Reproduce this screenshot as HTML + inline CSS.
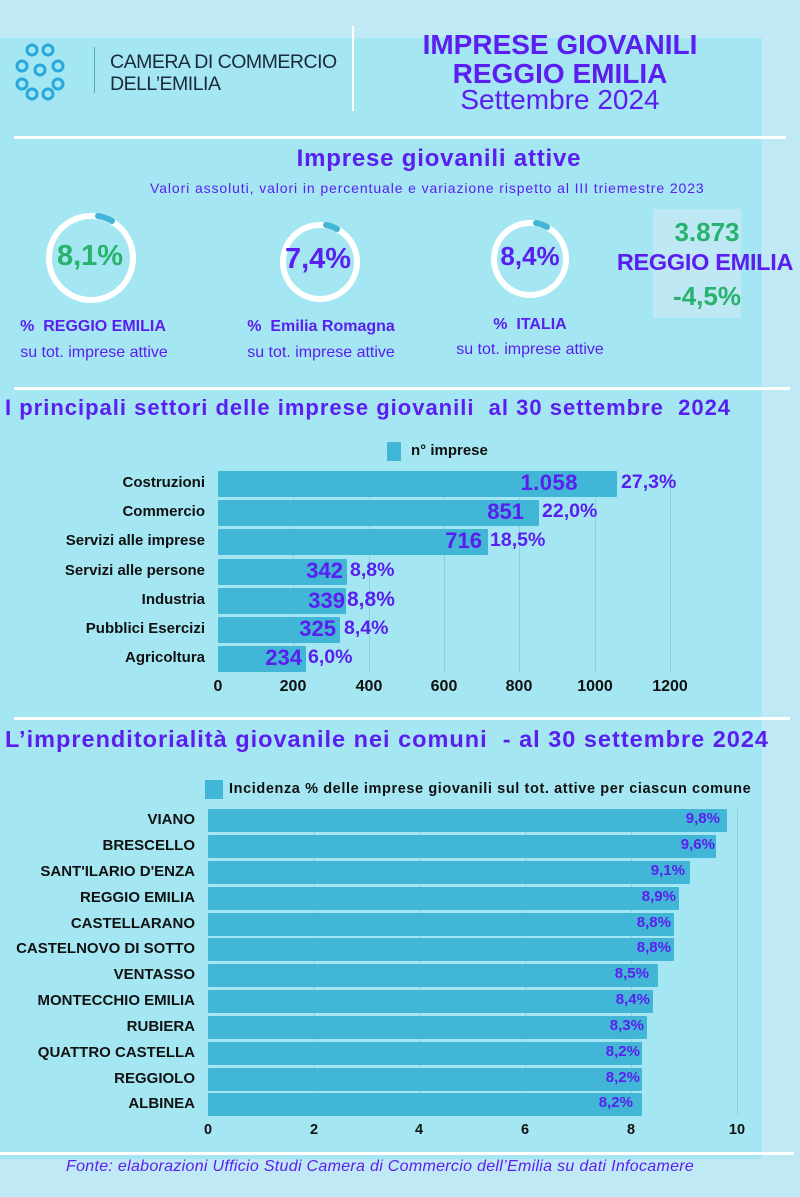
<!DOCTYPE html>
<html><head><meta charset="utf-8">
<style>
*{margin:0;padding:0;box-sizing:border-box}
body{width:800px;height:1197px;background:#c0e9f6;position:relative;overflow:hidden;font-family:"Liberation Sans",sans-serif}
.a{position:absolute;white-space:nowrap}
.p{color:#5a1ff0}
.g{color:#27b36e}
.k{color:#111}
.bar{position:absolute;background:#41b6d6;border-radius:1px}
.grid{position:absolute;width:1px;background:#8ccfdf}
.lbl{position:absolute;text-align:right;font-weight:bold;font-size:15px;color:#111;white-space:nowrap}
.wl{position:absolute;height:3px;background:#fff}
.v1{position:absolute;text-align:right;width:100px;font-weight:bold;font-size:22px;color:#5a1ff0}
.q1{position:absolute;font-weight:bold;font-size:19.5px;color:#5a1ff0}
.v2{position:absolute;text-align:right;width:60px;font-weight:bold;font-size:15px;color:#5a1ff0}
.t1{position:absolute;width:60px;text-align:center;font-weight:bold;font-size:16px;color:#111}
.t2{position:absolute;width:30px;text-align:center;font-weight:bold;font-size:14.5px;color:#111}
</style></head><body>
<div class="a" style="left:0;top:38px;width:762px;height:1121px;background:#a4e7f2"></div>

<!-- logo -->
<svg class="a" style="left:12px;top:40px" width="66" height="62" viewBox="0 0 66 62">
<g fill="none" stroke="#2aa9dc" stroke-width="3">
<circle cx="20" cy="10" r="5"/><circle cx="36" cy="10" r="5"/>
<circle cx="10" cy="26" r="5"/><circle cx="28" cy="30" r="5"/><circle cx="46" cy="26" r="5"/>
<circle cx="10" cy="44" r="5"/><circle cx="46" cy="44" r="5"/>
<circle cx="20" cy="54" r="5"/><circle cx="36" cy="54" r="5"/>
</g></svg>
<div class="a" style="left:94px;top:47px;width:1px;height:46px;background:#5aa"></div>
<div class="a k" style="left:110px;top:51px;font-size:19.5px;line-height:22px;color:#1a2a3a;letter-spacing:-0.5px">CAMERA DI COMMERCIO<br>DELL’EMILIA</div>
<div class="a" style="left:352px;top:26px;width:2px;height:85px;background:#fff"></div>
<div class="a p" style="left:360px;top:30px;width:400px;text-align:center;font-weight:bold;font-size:28px;line-height:29px;letter-spacing:0px">IMPRESE GIOVANILI<br>REGGIO EMILIA</div>
<div class="a p" style="left:360px;top:85px;width:400px;text-align:center;font-size:28px;line-height:30px">Settembre 2024</div>
<div class="wl" style="left:14px;top:136px;width:772px"></div>

<div class="a p" style="left:0;top:145px;width:878px;text-align:center;font-weight:bold;font-size:24px;letter-spacing:0.8px">Imprese giovanili attive</div>
<div class="a p" style="left:150px;top:180px;font-size:14px;letter-spacing:0.9px">Valori assoluti, valori in percentuale e variazione rispetto al III triemestre 2023</div>

<!-- donuts -->
<svg class="a" style="left:0;top:200px" width="640" height="110">
<circle cx="91" cy="58" r="42" fill="none" stroke="#fff" stroke-width="6"/>
<path d="M98 16 A42 42 0 0 1 112 21" stroke="#41b6d6" stroke-width="6" fill="none" stroke-linecap="round"/>
<circle cx="320" cy="62" r="37" fill="none" stroke="#fff" stroke-width="6"/>
<path d="M326 25 A37 37 0 0 1 337 29" stroke="#41b6d6" stroke-width="6" fill="none" stroke-linecap="round"/>
<circle cx="530" cy="59" r="36" fill="none" stroke="#fff" stroke-width="6"/>
<path d="M536 23 A36 36 0 0 1 547 27" stroke="#41b6d6" stroke-width="6" fill="none" stroke-linecap="round"/>
</svg>
<div class="a g" style="left:45px;top:240px;width:90px;text-align:center;font-weight:bold;font-size:29px">8,1%</div>
<div class="a p" style="left:273px;top:243px;width:90px;text-align:center;font-weight:bold;font-size:29px">7,4%</div>
<div class="a p" style="left:485px;top:241px;width:90px;text-align:center;font-weight:bold;font-size:26px">8,4%</div>
<div class="a p" style="left:0;top:318px;width:186px;text-align:center;font-weight:bold;font-size:16px">%&nbsp; REGGIO EMILIA</div>
<div class="a p" style="left:0;top:344px;width:188px;text-align:center;font-size:16px">su tot. imprese attive</div>
<div class="a p" style="left:226px;top:318px;width:190px;text-align:center;font-weight:bold;font-size:16px">%&nbsp; Emilia Romagna</div>
<div class="a p" style="left:226px;top:344px;width:190px;text-align:center;font-size:16px">su tot. imprese attive</div>
<div class="a p" style="left:440px;top:316px;width:180px;text-align:center;font-weight:bold;font-size:16px">%&nbsp; ITALIA</div>
<div class="a p" style="left:440px;top:341px;width:180px;text-align:center;font-size:16px">su tot. imprese attive</div>
<div class="a" style="left:653px;top:209px;width:88px;height:109px;background:#bfe8f5"></div>
<div class="a g" style="left:612px;top:217px;width:190px;text-align:center;font-weight:bold;font-size:26px">3.873</div>
<div class="a p" style="left:605px;top:249px;width:200px;text-align:center;font-weight:bold;font-size:23.5px;letter-spacing:-0.3px">REGGIO EMILIA</div>
<div class="a g" style="left:612px;top:281px;width:190px;text-align:center;font-weight:bold;font-size:26px">-4,5%</div>

<div class="wl" style="left:14px;top:387px;width:776px"></div>

<!-- chart 1 -->
<div class="a p" style="left:5px;top:395px;font-weight:bold;font-size:22px;letter-spacing:1px">I principali settori delle imprese giovanili&nbsp; al 30 settembre&nbsp; 2024</div>
<div class="a" style="left:387px;top:442px;width:14px;height:19px;background:#41b6d6"></div>
<div class="a k" style="left:411px;top:442px;font-weight:bold;font-size:15px">n° imprese</div>
<div class="grid" style="left:293px;top:471px;height:201px"></div>
<div class="grid" style="left:369px;top:471px;height:201px"></div>
<div class="grid" style="left:444px;top:471px;height:201px"></div>
<div class="grid" style="left:519px;top:471px;height:201px"></div>
<div class="grid" style="left:595px;top:471px;height:201px"></div>
<div class="grid" style="left:670px;top:471px;height:201px"></div>

<div class="bar" style="left:218px;top:471px;width:399px;height:26px"></div>
<div class="bar" style="left:218px;top:500px;width:321px;height:26px"></div>
<div class="bar" style="left:218px;top:529px;width:270px;height:26px"></div>
<div class="bar" style="left:218px;top:559px;width:129px;height:26px"></div>
<div class="bar" style="left:218px;top:588px;width:128px;height:26px"></div>
<div class="bar" style="left:218px;top:617px;width:122px;height:26px"></div>
<div class="bar" style="left:218px;top:646px;width:88px;height:26px"></div>

<div class="lbl" style="right:595px;top:474px">Costruzioni</div>
<div class="lbl" style="right:595px;top:503px">Commercio</div>
<div class="lbl" style="right:595px;top:532px">Servizi alle imprese</div>
<div class="lbl" style="right:595px;top:562px">Servizi alle persone</div>
<div class="lbl" style="right:595px;top:591px">Industria</div>
<div class="lbl" style="right:595px;top:620px">Pubblici Esercizi</div>
<div class="lbl" style="right:595px;top:649px">Agricoltura</div>

<div class="v1" style="left:478px;top:470px;letter-spacing:0.5px">1.058</div><div class="q1" style="left:621px;top:471px">27,3%</div>
<div class="v1" style="left:424px;top:499px">851</div><div class="q1" style="left:542px;top:500px">22,0%</div>
<div class="v1" style="left:382px;top:528px">716</div><div class="q1" style="left:490px;top:529px">18,5%</div>
<div class="v1" style="left:243px;top:558px">342</div><div class="q1" style="left:350px;top:559px">8,8%</div>
<div class="v1" style="left:245px;top:588px">339</div><div class="q1" style="left:347px;top:588px;font-size:21px">8,8%</div>
<div class="v1" style="left:236px;top:616px">325</div><div class="q1" style="left:344px;top:617px">8,4%</div>
<div class="v1" style="left:202px;top:645px">234</div><div class="q1" style="left:308px;top:646px">6,0%</div>

<div class="t1" style="left:188px;top:678px">0</div>
<div class="t1" style="left:263px;top:678px">200</div>
<div class="t1" style="left:339px;top:678px">400</div>
<div class="t1" style="left:414px;top:678px">600</div>
<div class="t1" style="left:489px;top:678px">800</div>
<div class="t1" style="left:565px;top:678px">1000</div>
<div class="t1" style="left:640px;top:678px">1200</div>

<div class="wl" style="left:14px;top:717px;width:776px"></div>

<!-- chart 2 -->
<div class="a p" style="left:5px;top:726px;font-weight:bold;font-size:23.5px;letter-spacing:1px">L’imprenditorialità giovanile nei comuni&nbsp; - al 30 settembre 2024</div>
<div class="a" style="left:205px;top:780px;width:18px;height:19px;background:#41b6d6"></div>
<div class="a k" style="left:229px;top:781px;font-weight:bold;font-size:14.5px;letter-spacing:0.6px">Incidenza % delle imprese giovanili sul tot. attive per ciascun comune</div>

<div class="grid" style="left:314px;top:809px;height:306px"></div>
<div class="grid" style="left:419px;top:809px;height:306px"></div>
<div class="grid" style="left:525px;top:809px;height:306px"></div>
<div class="grid" style="left:631px;top:809px;height:306px"></div>
<div class="grid" style="left:737px;top:809px;height:306px"></div>

<div class="bar" style="left:208px;top:809px;width:519px;height:23px"></div>
<div class="bar" style="left:208px;top:835px;width:508px;height:23px"></div>
<div class="bar" style="left:208px;top:861px;width:482px;height:23px"></div>
<div class="bar" style="left:208px;top:887px;width:471px;height:23px"></div>
<div class="bar" style="left:208px;top:913px;width:466px;height:23px"></div>
<div class="bar" style="left:208px;top:938px;width:466px;height:23px"></div>
<div class="bar" style="left:208px;top:964px;width:450px;height:23px"></div>
<div class="bar" style="left:208px;top:990px;width:445px;height:23px"></div>
<div class="bar" style="left:208px;top:1016px;width:439px;height:23px"></div>
<div class="bar" style="left:208px;top:1042px;width:434px;height:23px"></div>
<div class="bar" style="left:208px;top:1068px;width:434px;height:23px"></div>
<div class="bar" style="left:208px;top:1093px;width:434px;height:23px"></div>

<div class="lbl" style="right:605px;top:811px">VIANO</div>
<div class="lbl" style="right:605px;top:837px">BRESCELLO</div>
<div class="lbl" style="right:605px;top:863px">SANT'ILARIO D'ENZA</div>
<div class="lbl" style="right:605px;top:889px">REGGIO EMILIA</div>
<div class="lbl" style="right:605px;top:915px">CASTELLARANO</div>
<div class="lbl" style="right:605px;top:940px">CASTELNOVO DI SOTTO</div>
<div class="lbl" style="right:605px;top:966px">VENTASSO</div>
<div class="lbl" style="right:605px;top:992px">MONTECCHIO EMILIA</div>
<div class="lbl" style="right:605px;top:1018px">RUBIERA</div>
<div class="lbl" style="right:605px;top:1044px">QUATTRO CASTELLA</div>
<div class="lbl" style="right:605px;top:1070px">REGGIOLO</div>
<div class="lbl" style="right:605px;top:1095px">ALBINEA</div>

<div class="v2" style="left:660px;top:810px">9,8%</div>
<div class="v2" style="left:655px;top:836px">9,6%</div>
<div class="v2" style="left:625px;top:862px">9,1%</div>
<div class="v2" style="left:616px;top:888px">8,9%</div>
<div class="v2" style="left:611px;top:914px">8,8%</div>
<div class="v2" style="left:611px;top:939px">8,8%</div>
<div class="v2" style="left:589px;top:965px">8,5%</div>
<div class="v2" style="left:590px;top:991px">8,4%</div>
<div class="v2" style="left:584px;top:1017px">8,3%</div>
<div class="v2" style="left:580px;top:1043px">8,2%</div>
<div class="v2" style="left:580px;top:1069px">8,2%</div>
<div class="v2" style="left:573px;top:1094px">8,2%</div>

<div class="t2" style="left:193px;top:1122px">0</div>
<div class="t2" style="left:299px;top:1122px">2</div>
<div class="t2" style="left:404px;top:1122px">4</div>
<div class="t2" style="left:510px;top:1122px">6</div>
<div class="t2" style="left:616px;top:1122px">8</div>
<div class="t2" style="left:722px;top:1122px">10</div>

<div class="wl" style="left:0;top:1152px;width:794px"></div>
<div class="a p" style="left:66px;top:1158px;font-style:italic;font-size:16px;letter-spacing:0.3px">Fonte: elaborazioni Ufficio Studi Camera di Commercio dell’Emilia su dati Infocamere</div>
</body></html>
